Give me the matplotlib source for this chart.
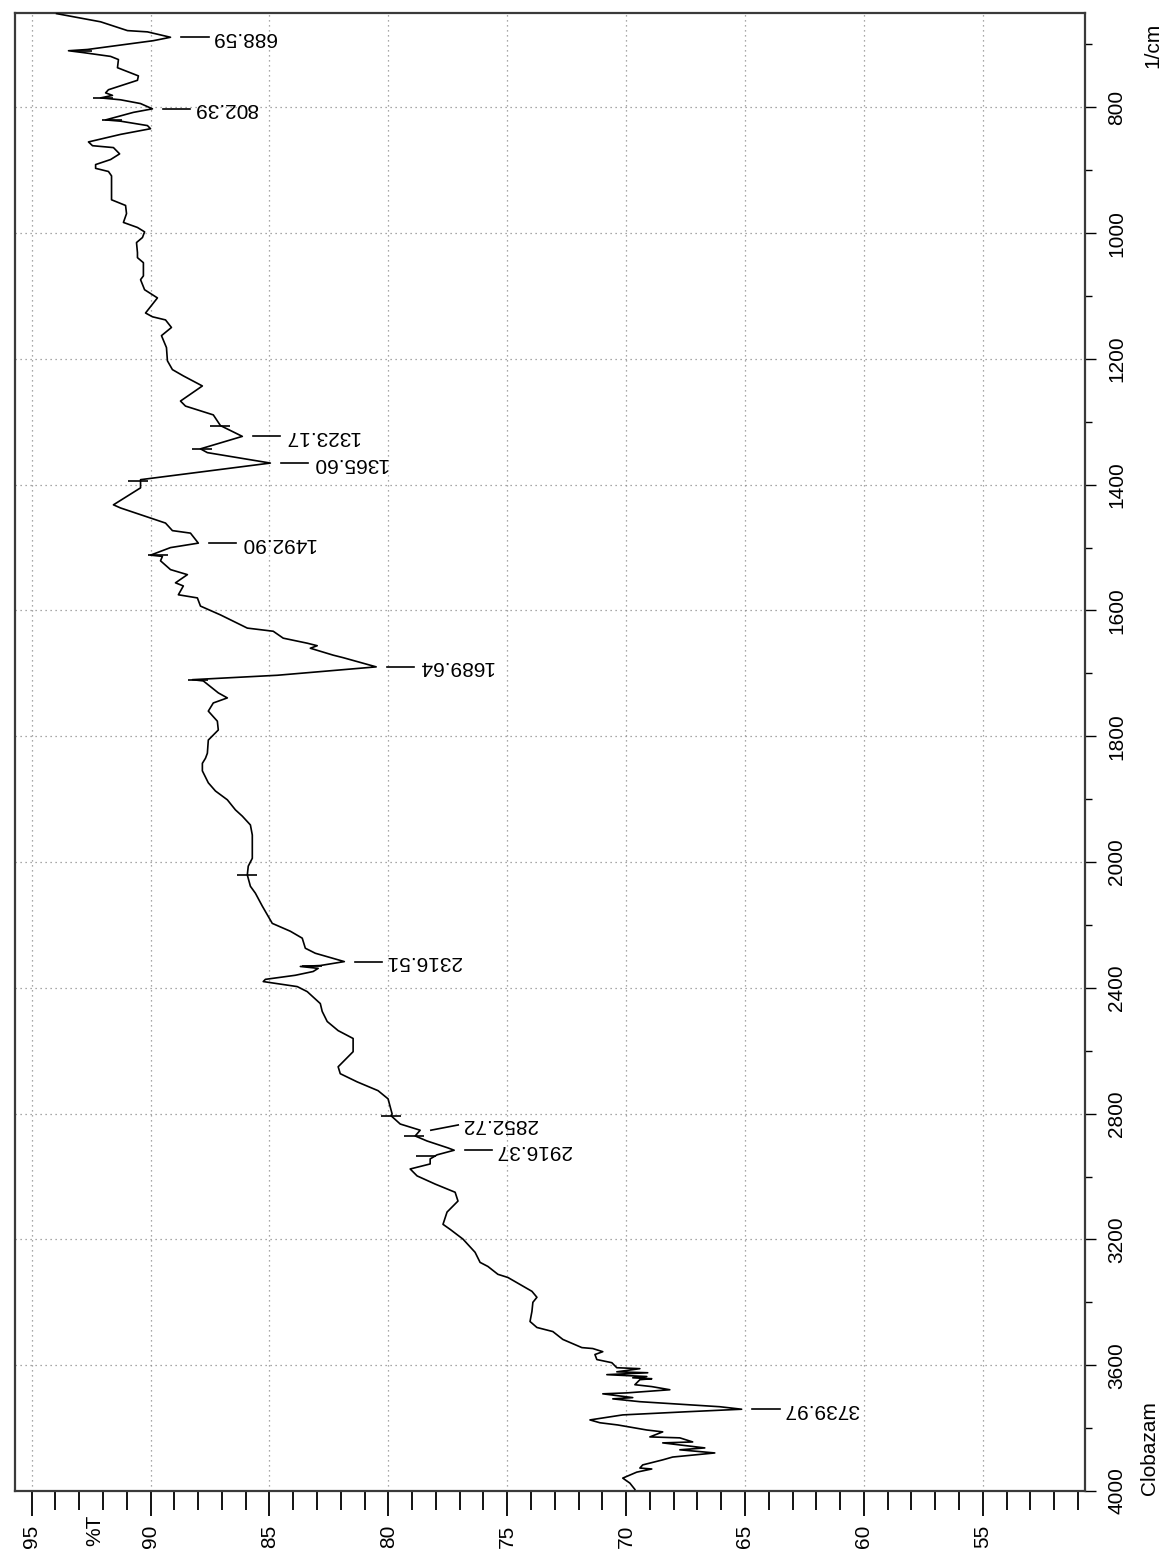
"""
IR spectrum of Clobazam, drawn in the rotated (portrait) layout of the scan:
%T runs left->right along the bottom, wavenumber runs top->bottom on the right.
"""

import numpy as np
import matplotlib
matplotlib.use("Agg")
import matplotlib.pyplot as plt
from matplotlib.transforms import blended_transform_factory

plt.rcParams["font.family"] = ["Liberation Sans", "DejaVu Sans"]

# spectrum trace (wavenumber in 1/cm, transmittance in %)
wavenumber = [
    651, 664, 678, 680, 688.59, 694, 708, 710, 713, 719, 724, 737, 750, 757, 772, 777,
    781, 785, 788, 794, 802.39, 808, 820, 822, 829, 834, 843, 855, 861, 864, 874, 883,
    891, 897, 902, 909, 947, 956, 969, 983, 991, 998, 1007, 1015, 1031, 1039, 1047, 1068,
    1074, 1090, 1103, 1127, 1133, 1138, 1150, 1163, 1182, 1203, 1217, 1227, 1243, 1267,
    1275, 1289, 1306, 1323.17, 1343, 1349, 1365.60, 1392, 1405, 1427, 1432, 1437, 1454,
    1461, 1473, 1477, 1492.90, 1500, 1512, 1514, 1521, 1535, 1543, 1556, 1561, 1575, 1580,
    1593, 1607, 1625, 1628, 1633, 1644, 1652, 1656, 1660, 1671, 1675, 1689.64, 1703, 1710,
    1712, 1731, 1739, 1747, 1760, 1776, 1790, 1806, 1827, 1835, 1843, 1855, 1874, 1887,
    1901, 1917, 1927, 1941, 1957, 1994, 2013, 2041, 2077, 2099, 2140, 2195, 2220, 2242,
    2274, 2290, 2316.51, 2329, 2332, 2338, 2348, 2360, 2373, 2380, 2396, 2412, 2450, 2475,
    2507, 2536, 2561, 2603, 2651, 2673, 2699, 2727, 2753, 2801, 2807, 2833, 2852.72, 2871,
    2887, 2909, 2916.37, 2931, 2944, 2960, 2976, 2998, 3024, 3050, 3078, 3113, 3152, 3168,
    3199, 3241, 3273, 3286, 3311, 3321, 3365, 3384, 3400, 3429, 3461, 3480, 3493, 3518,
    3544, 3547, 3557, 3566, 3582, 3592, 3608, 3611, 3621, 3624, 3630, 3636, 3640, 3643,
    3646, 3662, 3668, 3678, 3688, 3691, 3703, 3707, 3716, 3732, 3739.97, 3748, 3758, 3774,
    3783, 3790, 3806, 3812, 3828, 3831, 3844, 3847, 3863, 3869, 3879, 3892, 3901, 3917,
    3927, 3930, 3940, 3959, 3975, 3995,
]
transmittance = [
    93.95, 92.10, 90.97, 90.13, 89.16, 89.88, 92.65, 93.45, 92.82, 91.68, 91.35, 91.39,
    90.51, 90.55, 91.77, 91.89, 91.60, 92.10, 91.26, 90.42, 89.92, 90.72, 91.89, 91.26,
    90.13, 90.00, 91.26, 92.61, 92.44, 91.56, 91.30, 91.68, 92.31, 92.31, 91.77, 91.64,
    91.64, 91.05, 91.01, 91.14, 90.55, 90.25, 90.34, 90.59, 90.55, 90.55, 90.30, 90.30,
    90.42, 90.25, 89.71, 90.21, 89.92, 89.37, 89.12, 89.54, 89.33, 89.29, 89.08, 88.62,
    87.82, 88.74, 88.53, 87.36, 87.06, 86.14, 87.90, 87.61, 84.96, 90.42, 90.42, 91.35,
    91.56, 91.26, 89.92, 89.37, 89.08, 88.32, 87.99, 89.16, 90.00, 89.50, 89.58, 89.16,
    88.45, 88.95, 88.62, 88.83, 88.03, 87.90, 87.06, 86.10, 85.93, 84.84, 84.42, 83.41,
    82.99, 83.28, 82.32, 81.90, 80.51, 84.67, 88.24, 87.78, 87.15, 86.77, 87.36, 87.57,
    87.19, 87.15, 87.57, 87.61, 87.69, 87.82, 87.82, 87.57, 87.27, 86.77, 86.43, 86.14,
    85.80, 85.72, 85.72, 85.89, 85.93, 85.80, 85.59, 85.30, 84.88, 84.12, 83.62, 83.49,
    83.07, 81.85, 82.86, 83.70, 82.95, 83.16, 83.91, 85.17, 85.26, 83.83, 83.41, 82.86,
    82.78, 82.57, 82.11, 81.48, 81.48, 82.11, 82.02, 81.31, 80.43, 80.01, 79.84, 79.88,
    79.50, 78.66, 78.87, 78.37, 77.49, 77.23, 77.95, 78.24, 78.24, 79.08, 78.79, 78.03,
    77.19, 77.07, 77.53, 77.70, 77.40, 76.86, 76.35, 76.14, 75.81, 75.39, 74.97, 73.96,
    73.75, 73.92, 73.96, 74.04, 73.75, 73.08, 72.66, 71.86, 71.40, 70.98, 71.31, 71.23,
    70.60, 70.39, 69.42, 70.39, 69.09, 70.81, 69.13, 69.72, 68.92, 69.42, 69.63, 68.92,
    68.16, 69.97, 70.98, 69.72, 70.56, 69.42, 66.06, 65.14, 67.45, 70.14, 71.52, 71.10,
    70.35, 69.13, 68.46, 69.00, 67.74, 67.20, 68.46, 66.69, 67.74, 66.27, 68.04, 68.46,
    69.30, 69.42, 68.92, 69.55, 70.14, 69.84, 69.63,
]

# labelled peaks
peak_wn = [688.59, 802.39, 1323.17, 1365.60, 1492.90, 1689.64, 2316.51, 2852.72, 2916.37, 3739.97]
peak_t = [89.16, 89.92, 86.14, 84.96, 87.99, 80.51, 81.85, 78.66, 77.23, 65.14]
peak_text = ["688.59", "802.39", "1323.17", "1365.60", "1492.90", "1689.64",
             "2316.51", "2852.72", "2916.37", "3739.97"]
label_wn = [688.59, 802.39, 1323.17, 1365.60, 1492.90, 1689.64, 2316.51, 2836, 2916.37, 3739.97]

# small unlabelled peak-pick marks
mark_wn = [710, 785, 820, 1306, 1343, 1394, 1512, 1710, 2041, 2332, 2807, 2871, 2934]
mark_t = [92.9, 92.0, 91.6, 87.06, 87.82, 90.51, 89.7, 88.0, 85.93, 83.2, 79.88, 78.9, 78.4]

t_ticks = [95, 90, 85, 80, 75, 70, 65, 60, 55]
wn_ticks = [800, 1000, 1200, 1400, 1600, 1800, 2000, 2400, 2800, 3200, 3600, 4000]
wn_minor = [700, 900, 1100, 1300, 1500, 1700, 1900, 2200, 2600, 3000, 3400, 3800]


def fwd(w):
    # above 2000 1/cm the instrument halves the scale
    w = np.asarray(w, dtype=float)
    return np.where(w <= 2000, w, 2000 + (w - 2000) / 2)


def inv(v):
    v = np.asarray(v, dtype=float)
    return np.where(v <= 2000, v, 2000 + (v - 2000) * 2)


W, H = 1171, 1561
fig = plt.figure(figsize=(W / 100, H / 100), dpi=100)
ax = fig.add_axes([15 / W, 1 - 1491 / H, (1085 - 15) / W, (1491 - 13) / H])

ax.set_yscale("function", functions=(fwd, inv))
ax.set_xlim(95.7, 50.7)
ax.set_ylim(4000, 650)

ax.plot(transmittance, wavenumber, color="black", lw=1.2, zorder=3)
ax.plot(mark_t, mark_wn, ls="none", marker="_", ms=14, mew=1.2, color="black", zorder=3)

for wn, t, txt, lw_ in zip(peak_wn, peak_t, peak_text, label_wn):
    ax.plot([t - 0.45, t - 1.6], [wn, lw_], color="black", lw=1.2, zorder=3)
    ax.text(t - 1.75, lw_, txt, rotation=180, rotation_mode="anchor",
            ha="right", va="center", fontsize=15, color="black")

# axes styling
ax.set_xticks(t_ticks)
ax.set_xticks(np.arange(51, 96, 1), minor=True)
ax.set_xticklabels([str(t) for t in t_ticks])
ax.set_yticks(wn_ticks)
ax.set_yticks(wn_minor, minor=True)
ax.set_yticklabels([str(w) for w in wn_ticks])
ax.yaxis.tick_right()

ax.tick_params(axis="x", which="major", direction="out", length=18, width=1.3,
               labelsize=15, labelrotation=90, pad=6, colors="black")
ax.tick_params(axis="x", which="minor", direction="out", length=14, width=1.3)
ax.tick_params(axis="y", which="major", direction="out", length=8, width=1.0,
               labelsize=15, labelrotation=90, pad=8)
ax.tick_params(axis="y", which="minor", direction="out", length=5, width=1.0)
for lab in ax.get_yticklabels():
    lab.set_va("center")

ax.grid(True, which="major", ls=(0, (1, 3)), color="#8c8c8c", lw=0.9)
for sp in ax.spines.values():
    sp.set_color("#3a3a3a")
    sp.set_linewidth(1.6)

fig.text(95 / W, 1 - 1530 / H, "%T", rotation=90, ha="center", va="center", fontsize=15)
fig.text(1153 / W, 1 - 45 / H, "1/cm", rotation=90, ha="center", va="center", fontsize=15)
fig.text(1150 / W, 1 - 1448 / H, "Clobazam", rotation=90, ha="center", va="center", fontsize=15)

fig.savefig("out.png", dpi=100)
